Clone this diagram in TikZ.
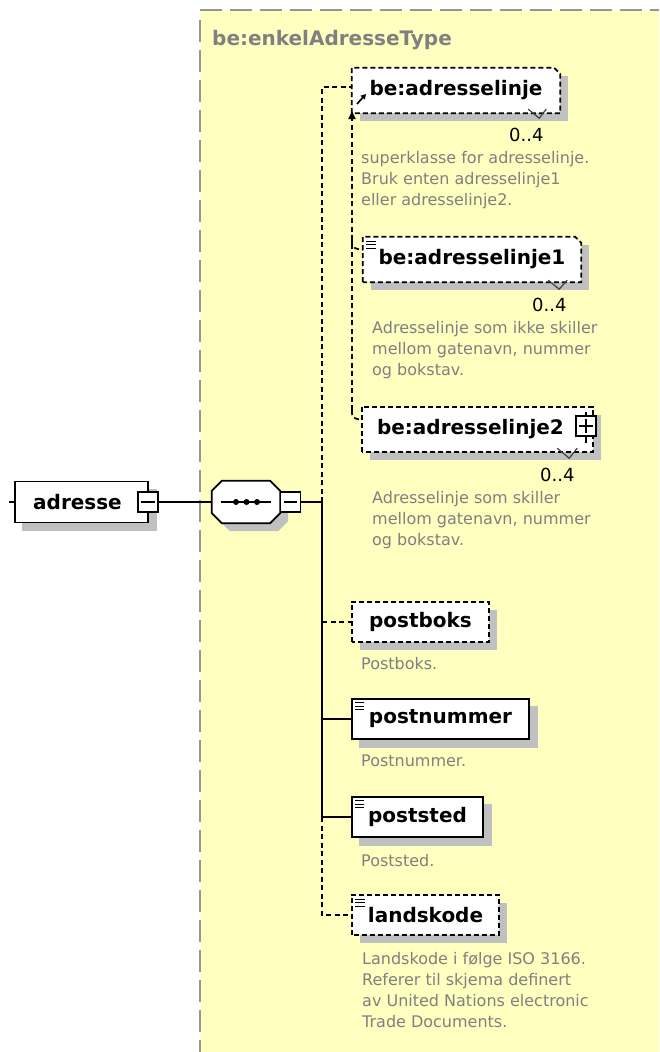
\documentclass[tikz,border=0pt]{standalone}
\usepackage{fontspec}
\setmainfont{DejaVu Sans}
\usetikzlibrary{arrows.meta}
\definecolor{bgyellow}{RGB}{255,255,192}
\definecolor{shadowgray}{RGB}{192,192,192}
\definecolor{descgray}{RGB}{128,128,128}
\definecolor{framegray}{RGB}{150,150,150}
\pgfdeclarelayer{bg}
\pgfsetlayers{bg,main}
\newcommand\lblfont{\bfseries\fontsize{20}{24}\selectfont}
\newcommand\descfont{\fontsize{16}{21.2}\selectfont}
\newcommand\multfont{\fontsize{18}{22}\selectfont}
% shadow + white fill (bg layer) and outline of an element box with optional notch
\newcommand\notchbox[3]{%
  \begin{pgfonlayer}{bg}
    \fill[shadowgray] ([shift={(8pt,-8pt)}]#1.south west) rectangle ([shift={(8pt,-8pt)}]#1.north east);
    \fill[white] (#1.south west) -- (#1.north west) -- ([xshift=-#2]#1.north east) -- ([yshift=-#2]#1.north east) -- (#1.south east) -- cycle;
  \end{pgfonlayer}
  \draw[#3] (#1.south west) -- (#1.north west) -- ([xshift=-#2]#1.north east) -- ([yshift=-#2]#1.north east) -- (#1.south east) -- cycle;}
\newcommand\elemshadow[1]{%
  \begin{pgfonlayer}{bg}
    \fill[shadowgray] ([shift={(8pt,-8pt)}]#1.south west) rectangle ([shift={(8pt,-8pt)}]#1.north east);
  \end{pgfonlayer}}
\newcommand\octagon[4]{\path[#4] ([xshift=#2+10pt,yshift=#3]#1.north west) -- ([xshift=#2-10pt,yshift=#3]#1.north east) -- ([xshift=#2,yshift=#3-10pt]#1.north east) -- ([xshift=#2,yshift=#3+10pt]#1.south east) -- ([xshift=#2-10pt,yshift=#3]#1.south east) -- ([xshift=#2+10pt,yshift=#3]#1.south west) -- ([xshift=#2,yshift=#3+10pt]#1.south west) -- ([xshift=#2,yshift=#3-10pt]#1.north west) -- cycle;}
\newcommand\docicon[1]{%
  \foreach \dy in {4.5,8,11.5}{\draw[line width=1.1pt] ([shift={(3.5pt,-\dy pt)}]#1.north west) -- ++(9.5pt,0pt);}}
\begin{document}
\begin{tikzpicture}[x=1pt,y=-1pt,
  lbl/.style={font=\lblfont, inner sep=0pt, text=black},
  elem/.style={lbl, rectangle},
  solidbox/.style={elem, draw, line width=1.7pt, fill=white},
  conn/.style={line width=1.7pt},
  dconn/.style={conn, dash pattern=on 5pt off 3.5pt},
  dbox/.style={line width=1.7pt, dash pattern=on 5pt off 3pt},
  desc/.style={font=\descfont, text=descgray, align=left, anchor=north west, inner sep=0pt},
  mult/.style={font=\multfont, text=black, anchor=base west, inner sep=0pt},
  ctrl/.style={draw, line width=1.7pt, fill=white, minimum width=20pt, minimum height=20pt, inner sep=0pt},
  chev/.style={line width=1.2pt, black!75},
]
\useasboundingbox (0,0) rectangle (659,1052);
\begin{pgfonlayer}{bg}
  \fill[bgyellow] (200,10) rectangle (659,1052);
\end{pgfonlayer}
\draw[framegray, line width=2pt, dash pattern=on 22pt off 8pt] (200,10) -- (659,10);
\draw[framegray, line width=2pt, dash pattern=on 22pt off 8pt] (200,20) -- (200,1052);

\node[font=\lblfont, text=descgray, anchor=base west, inner sep=0pt] (title) at (212,45) {be:enkelAdresseType};

% root element
\node[solidbox, minimum width=133pt, minimum height=41pt] (adr) at (81.5,502) {\hspace*{-8pt}adresse};
\elemshadow{adr}
\node[ctrl] (adrm) at (148,502) {};
\draw[conn] ([xshift=4pt]adrm.west) -- ([xshift=-4pt]adrm.east);

% sequence compositor
\node[minimum width=68pt, minimum height=42pt, inner sep=0pt] (seq) at (246,502) {};
\begin{pgfonlayer}{bg}
  \octagon{seq}{8pt}{-8pt}{fill=shadowgray}
  \octagon{seq}{0pt}{0pt}{fill=white}
\end{pgfonlayer}
\octagon{seq}{0pt}{0pt}{draw, line width=1.7pt}
\draw[conn] ([xshift=9pt]seq.west) -- ([xshift=-9pt]seq.east);
\foreach \dx in {-10,0.5,11}{\fill ([xshift=\dx pt]seq.center) circle (3pt);}
\node[ctrl] (seqm) at (290.5,502) {};
\draw[conn] ([xshift=4pt]seqm.west) -- ([xshift=-4pt]seqm.east);

% child elements
\node[elem, minimum width=208pt, minimum height=45pt] (al) at (456,90.5) {be:adresselinje};
\notchbox{al}{6pt}{dbox}
\node[elem, minimum width=218pt, minimum height=45pt] (a1) at (472,259.5) {be:adresselinje1};
\notchbox{a1}{6pt}{dbox}
\docicon{a1}
\node[elem, minimum width=231pt, minimum height=45pt] (a2) at (477.5,429.5) {\hspace*{-14pt}be:adresselinje2};
\notchbox{a2}{0pt}{dbox}
\node[ctrl] (a2p) at (586,426) {};
\draw[conn] ([xshift=4pt]a2p.west) -- ([xshift=-4pt]a2p.east);
\draw[conn] ([yshift=-4pt]a2p.north) -- ([yshift=4pt]a2p.south);
\draw[conn] (a2p.north) -- ++(0pt,3pt);
\draw[conn] (a2p.south) -- ++(0pt,-6pt);

\node[elem, minimum width=137pt, minimum height=40pt] (pb) at (420.5,622) {postboks};
\notchbox{pb}{0pt}{dbox}
\node[solidbox, minimum width=177pt, minimum height=40pt] (pn) at (440.5,719) {postnummer};
\elemshadow{pn}
\docicon{pn}
\node[solidbox, minimum width=131pt, minimum height=40pt] (ps) at (417.5,817) {poststed};
\elemshadow{ps}
\docicon{ps}
\node[elem, minimum width=147pt, minimum height=40pt] (lk) at (425.5,915) {landskode};
\notchbox{lk}{0pt}{dbox}
\docicon{lk}

% multiplicity chevrons and labels
\draw[chev] ([shift={(-32pt,4pt)}]al.south east) -- ++(11pt,-9pt) -- ++(7pt,9pt);
\draw[chev] ([shift={(-33pt,2pt)}]a1.south east) -- ++(11pt,-9pt) -- ++(8pt,9pt);
\draw[chev] ([shift={(-36pt,4pt)}]a2.south east) -- ++(12pt,-10pt) -- ++(8pt,10pt);
\node[mult] (m1) at (509,141) {0..4};
\node[mult] (m2) at (532,311) {0..4};
\node[mult] (m3) at (540,481) {0..4};

% descriptions
\node[desc] (d0) at (361,150.8) {superklasse for adresselinje.\\Bruk enten adresselinje1\\eller adresselinje2.};
\node[desc] (d1) at (372,320.8) {Adresselinje som ikke skiller\\mellom gatenavn, nummer\\og bokstav.};
\node[desc] (d2) at (372,490.8) {Adresselinje som skiller\\mellom gatenavn, nummer\\og bokstav.};
\node[desc] (d3) at (361,656.8) {Postboks.};
\node[desc] (d4) at (361,754.8) {Postnummer.};
\node[desc] (d5) at (361,853.8) {Poststed.};
\node[desc] (d6) at (362,951.8) {Landskode i følge ISO 3166.\\Referer til skjema definert\\av United Nations electronic\\Trade Documents.};

% connectors
\coordinate (stub) at (9,502);
\coordinate (tj) at (322,502);
\coordinate (ttop) at (322,87);
\coordinate (tpb) at (322,622);
\coordinate (tpn) at (322,719);
\coordinate (tps) at (322,817);
\coordinate (tlk) at (322,915);
\draw[conn] (stub) -- (adr.west);
\draw[conn] (adrm.east) -- (seq.west);
\draw[conn] (seqm.east) -- (tj);
\draw[conn] (tj) -- (tps);
\draw[dconn] (tj) -- (ttop) -- (ttop -| al.west);
\draw[dconn] (tpb) -- (pb.west);
\draw[conn] (tpn) -- (pn.west);
\draw[conn] (tps) -- (ps.west);
\draw[dconn] (tps) -- (tlk) -- (lk.west);

% substitution group
\coordinate (subtop) at (352,111);
\coordinate (subbot) at (352,410);
\coordinate (b1) at (352,240);
\coordinate (s1) at (363,250);
\coordinate (s2) at (362,420);
\draw[dconn, -{Triangle[length=8pt,width=7pt]}] (subbot) -- (subtop);
\draw[dconn] (b1) .. controls (352,248) .. (s1);
\draw[dconn] (subbot) .. controls (352,418) .. (s2);
\coordinate (da1) at (357,104);
\coordinate (da2) at (366,94);
\draw[line width=1.7pt, -{Triangle[length=5pt,width=5.5pt]}] (da1) -- (da2);
\end{tikzpicture}
\end{document}
